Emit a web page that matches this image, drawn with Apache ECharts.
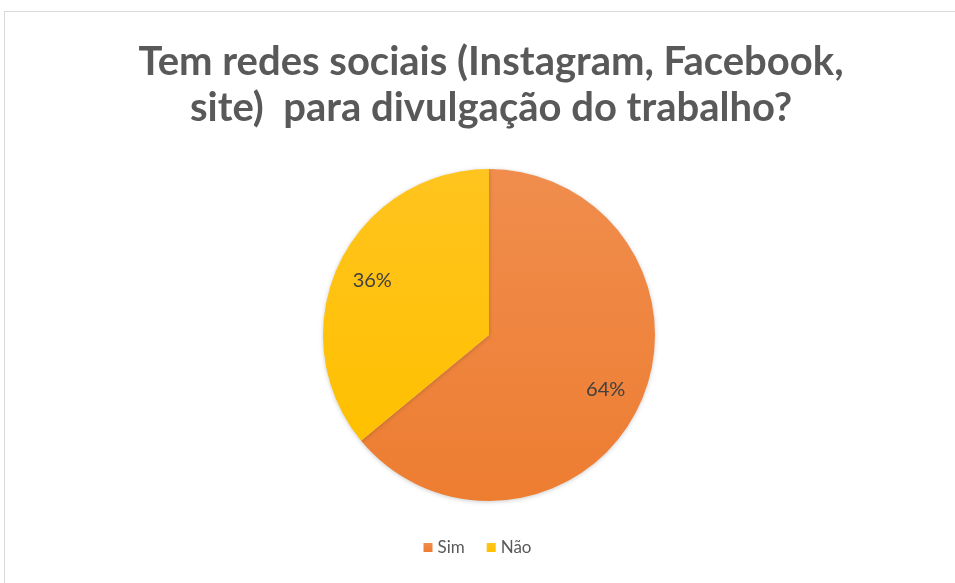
<!DOCTYPE html>
<html><head><meta charset="utf-8">
<script src="https://cdn.jsdelivr.net/npm/echarts@6/dist/echarts.min.js"></script>
<style>html,body{margin:0;padding:0;background:#fff}#c{width:955px;height:583px}
#frame{position:absolute;left:4px;top:11px;width:960px;height:580px;border:1px solid #d9d9d9;box-sizing:border-box;pointer-events:none}</style>
</head><body><div id="c"></div><div id="frame"></div>
<script>
var categories = ['Sim', 'Não'];
var values = [64, 36];
var colors = ['#ED7D31', '#FFC000'];
var colorsLight = ['#F08D4D', '#FFC41F'];
var titleText = 'Tem redes sociais (Instagram, Facebook,\nsite)  para divulgação do trabalho?';

var chart = echarts.init(document.getElementById('c'));
var mainData = categories.map(function (n, i) {
  return { name: n, value: values[i], itemStyle: { color: new echarts.graphic.LinearGradient(0, 0, 0, 1, [{offset: 0, color: colorsLight[i]}, {offset: 1, color: colors[i]}]) } };
});
var labelData = categories.map(function (n, i) {
  return { name: n, value: values[i] };
});
chart.setOption({
  backgroundColor: '#fff',
  color: colors,
  title: {
    text: titleText, left: 486, top: 34, textAlign: 'center',
    textStyle: { fontFamily: 'Lato', fontWeight: 'bold', fontSize: 40, color: '#595959', lineHeight: 46 }
  },
  legend: {
    data: categories, bottom: 22, left: 'center', icon: 'rect', itemWidth: 9, itemHeight: 9, itemGap: 22,
    textStyle: { fontFamily: 'Lato', fontSize: 17, color: '#595959' }
  },
  series: [{
    type: 'pie', center: [489, 335], radius: [0, 166], startAngle: 90, clockwise: true,
    label: { show: false }, labelLine: { show: false }, silent: true,
    itemStyle: { borderWidth: 0, shadowBlur: 4, shadowColor: 'rgba(0,0,0,0.2)', shadowOffsetY: 1 },
    data: mainData
  }, {
    type: 'pie', center: [489, 335], radius: [86, 166], startAngle: 90, clockwise: true, silent: true,
    itemStyle: { color: 'rgba(0,0,0,0)', borderWidth: 0 },
    label: { show: true, position: 'inside', formatter: '{c}%', fontFamily: 'Lato', fontSize: 20, color: '#404040' },
    labelLine: { show: false },
    data: labelData
  }]
});
</script></body></html>
